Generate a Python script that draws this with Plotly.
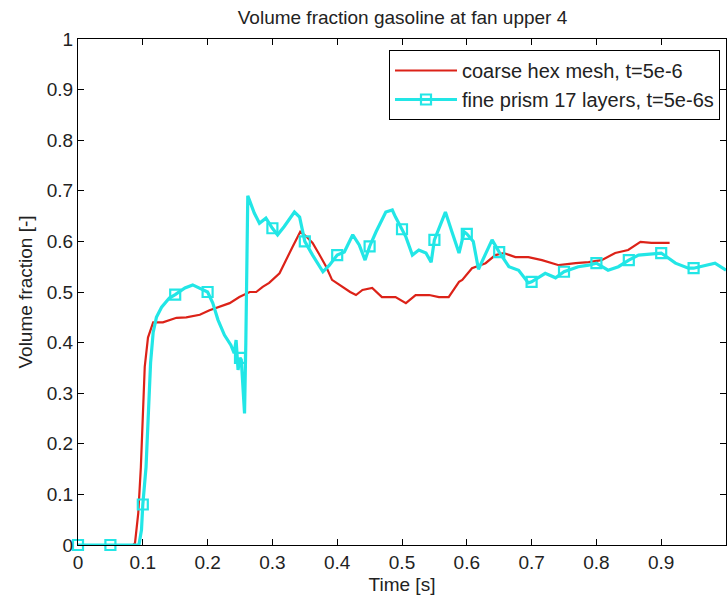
import plotly.graph_objects as go

# Coarse hex mesh, t=5e-6
coarse_time = [0, 0.085, 0.088, 0.093, 0.097, 0.100, 0.103, 0.108, 0.116, 0.131,
               0.152, 0.167, 0.188, 0.203, 0.223, 0.234, 0.249, 0.265, 0.275, 0.285,
               0.295, 0.311, 0.331, 0.343, 0.352, 0.362, 0.372, 0.383, 0.392, 0.408,
               0.420, 0.429, 0.439, 0.454, 0.469, 0.490, 0.506, 0.521, 0.542, 0.557,
               0.572, 0.588, 0.593, 0.608, 0.629, 0.644, 0.657, 0.675, 0.695, 0.716,
               0.742, 0.768, 0.788, 0.808, 0.829, 0.849, 0.868, 0.885, 0.913]
coarse_frac = [0, 0, 0.004, 0.063, 0.154, 0.26, 0.352, 0.41, 0.44, 0.44,
               0.449, 0.45, 0.455, 0.464, 0.474, 0.478, 0.49, 0.50, 0.50, 0.51,
               0.518, 0.537, 0.589, 0.619, 0.61, 0.597, 0.575, 0.55, 0.524, 0.51,
               0.50, 0.494, 0.504, 0.508, 0.49, 0.49, 0.478, 0.494, 0.494, 0.49,
               0.49, 0.52, 0.524, 0.547, 0.557, 0.573, 0.577, 0.569, 0.569, 0.563,
               0.553, 0.557, 0.559, 0.563, 0.577, 0.583, 0.599, 0.597, 0.597]

# Fine prism 17 layers, t=5e-6s
fine_time = [0, 0.05, 0.094, 0.098, 0.10, 0.105, 0.108, 0.112, 0.116, 0.121,
             0.129, 0.141, 0.15, 0.165, 0.177, 0.188, 0.20, 0.208, 0.216, 0.226,
             0.236, 0.241, 0.244, 0.247, 0.25, 0.252, 0.255, 0.257, 0.259, 0.262,
             0.265, 0.272, 0.28, 0.29, 0.30, 0.308, 0.318, 0.334, 0.342, 0.35,
             0.362, 0.37, 0.378, 0.388, 0.40, 0.411, 0.424, 0.434, 0.443, 0.45,
             0.46, 0.475, 0.485, 0.49, 0.50, 0.506, 0.516, 0.526, 0.537, 0.545,
             0.55, 0.567, 0.577, 0.588, 0.596, 0.60, 0.61, 0.618, 0.639, 0.65,
             0.665, 0.68, 0.695, 0.70, 0.721, 0.737, 0.75, 0.772, 0.788, 0.80,
             0.818, 0.834, 0.85, 0.865, 0.90, 0.922, 0.942, 0.95, 0.983, 1.0]
fine_frac = [0, 0, 0, 0.03, 0.08, 0.154, 0.26, 0.36, 0.42, 0.45,
             0.47, 0.488, 0.495, 0.508, 0.514, 0.508, 0.50, 0.478, 0.445, 0.415,
             0.395, 0.379, 0.405, 0.346, 0.37, 0.366, 0.31, 0.26, 0.40, 0.69,
             0.68, 0.656, 0.636, 0.646, 0.626, 0.613, 0.629, 0.658, 0.648, 0.60,
             0.573, 0.557, 0.54, 0.553, 0.573, 0.579, 0.613, 0.593, 0.563, 0.59,
             0.619, 0.658, 0.662, 0.648, 0.624, 0.609, 0.573, 0.583, 0.577, 0.559,
             0.603, 0.658, 0.619, 0.577, 0.619, 0.615, 0.60, 0.545, 0.603, 0.579,
             0.55, 0.543, 0.518, 0.52, 0.537, 0.528, 0.54, 0.55, 0.553, 0.557,
             0.543, 0.55, 0.563, 0.573, 0.577, 0.557, 0.547, 0.547, 0.557, 0.543]

# Marker samples on the fine-mesh curve (every 0.05 s)
marker_time = [0, 0.05, 0.10, 0.15, 0.20, 0.25, 0.30, 0.35, 0.40, 0.45,
               0.50, 0.55, 0.60, 0.65, 0.70, 0.75, 0.80, 0.85, 0.90, 0.95]
marker_frac = [0, 0, 0.08, 0.495, 0.50, 0.37, 0.626, 0.60, 0.573, 0.59,
               0.624, 0.603, 0.615, 0.579, 0.52, 0.54, 0.557, 0.563, 0.577, 0.547]

x_ticks = [0, 0.1, 0.2, 0.3, 0.4, 0.5, 0.6, 0.7, 0.8, 0.9, 1.0]
x_tick_text = ["0", "0.1", "0.2", "0.3", "0.4", "0.5", "0.6", "0.7", "0.8", "0.9", ""]
y_ticks = [0, 0.1, 0.2, 0.3, 0.4, 0.5, 0.6, 0.7, 0.8, 0.9, 1.0]
y_tick_text = ["0", "0.1", "0.2", "0.3", "0.4", "0.5", "0.6", "0.7", "0.8", "0.9", "1"]

RED = "#dc2218"
CYAN = "#22e6e6"
FONT = "Liberation Sans, Arial, sans-serif"
TEXT = "#222222"

fig = go.Figure()

fig.add_trace(go.Scatter(
    x=coarse_time, y=coarse_frac, mode="lines",
    line=dict(color=RED, width=2.2),
    name="coarse hex mesh, t=5e-6",
))
fig.add_trace(go.Scatter(
    x=fine_time, y=fine_frac, mode="lines",
    line=dict(color=CYAN, width=3.2),
    showlegend=False, hoverinfo="skip",
))
fig.add_trace(go.Scatter(
    x=marker_time, y=marker_frac, mode="markers",
    marker=dict(symbol="square-open", size=10, color=CYAN, line=dict(color=CYAN, width=2.2)),
    cliponaxis=False, showlegend=False,
))
# legend entry combining line and marker
fig.add_trace(go.Scatter(
    x=[None], y=[None], mode="lines+markers",
    line=dict(color=CYAN, width=3.2),
    marker=dict(symbol="square-open", size=10, color=CYAN, line=dict(color=CYAN, width=2.2)),
    name="fine prism 17 layers, t=5e-6s",
))

axis_common = dict(
    showline=True, linecolor="black", linewidth=1,
    mirror="ticks", ticks="inside", ticklen=6, tickcolor="black", tickwidth=1,
    showgrid=False, zeroline=False,
    tickfont=dict(family=FONT, size=19, color=TEXT),
)

fig.update_layout(
    width=727, height=601,
    margin=dict(l=78, r=1, t=39, b=56),
    paper_bgcolor="white", plot_bgcolor="white",
    font=dict(family=FONT, size=19, color=TEXT),
    title=dict(text="Volume fraction gasoline at fan upper 4",
               x=(78 + 727) / 2 / 727, xanchor="center",
               y=1 - 17 / 601, yanchor="middle", yref="container",
               font=dict(family=FONT, size=19, color=TEXT)),
    xaxis=dict(range=[0, 1], tickvals=x_ticks, ticktext=x_tick_text,
               title=dict(text="Time [s]", standoff=5,
                          font=dict(family=FONT, size=19, color=TEXT)),
               **axis_common),
    yaxis=dict(range=[0, 1], tickvals=y_ticks, ticktext=y_tick_text,
               title=dict(text="Volume fraction [-]", standoff=9,
                          font=dict(family=FONT, size=19, color=TEXT)),
               **axis_common),
    legend=dict(x=(720 - 78) / 648, xanchor="right", y=(545 - 50) / 506, yanchor="top",
                bgcolor="white", bordercolor="black", borderwidth=1,
                font=dict(family=FONT, size=20, color=TEXT),
                itemwidth=62, tracegroupgap=0),
    showlegend=True,
)

fig.write_html("out.html")
